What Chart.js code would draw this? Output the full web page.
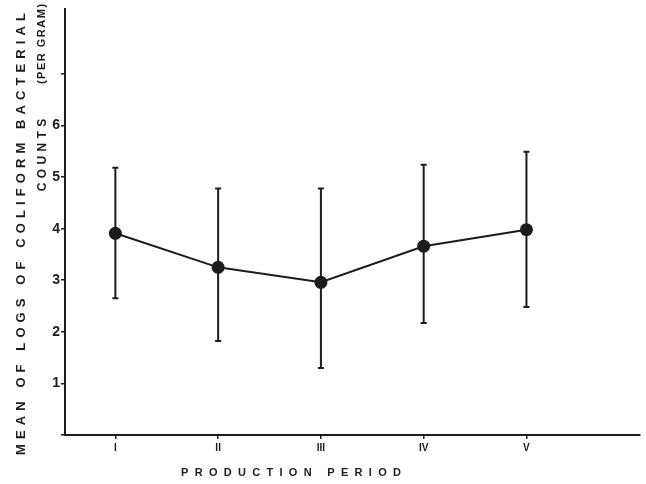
<!DOCTYPE html>
<html>
<head>
<meta charset="utf-8">
<script src="https://cdn.jsdelivr.net/npm/chart.js@4.4.1/dist/chart.umd.min.js"></script>
<style>
  html, body { margin: 0; padding: 0; background: #fff; }
  #wrap { width: 646px; height: 484px; }
</style>
</head>
<body>
<div id="wrap"><canvas id="coliformChart" width="646" height="484"></canvas></div>
<script>
// production periods (x positions 0..4)
const periods = ['I', 'II', 'III', 'IV', 'V'];
const meanLogs = [3.91, 3.25, 2.96, 3.66, 3.98];
const upperLogs = [5.18, 4.78, 4.78, 5.24, 5.49];
const lowerLogs = [2.65, 1.82, 1.30, 2.17, 2.48];
const yTicks = [0, 1, 2, 3, 4, 5, 6, 7];
const yLabelled = [1, 2, 3, 4, 5, 6];

const ink = '#1c1c1c';
const labelFont = '"Liberation Sans", Arial, sans-serif';

// vertical error bars with small caps
const errorBars = {
    id: 'errorBars',
    beforeDatasetsDraw(chart) {
        const { ctx, scales: { x, y } } = chart;
        ctx.save();
        ctx.strokeStyle = ink;
        ctx.lineWidth = 2;
        periods.forEach((p, i) => {
            const px = x.getPixelForValue(i);
            const top = y.getPixelForValue(upperLogs[i]);
            const bot = y.getPixelForValue(lowerLogs[i]);
            ctx.beginPath();
            ctx.moveTo(px, top); ctx.lineTo(px, bot);
            ctx.moveTo(px - 3, top); ctx.lineTo(px + 3, top);
            ctx.moveTo(px - 3, bot); ctx.lineTo(px + 3, bot);
            ctx.stroke();
        });
        ctx.restore();
    }
};

// spaced-out axis titles like the typeset original
const axisTitles = {
    id: 'axisTitles',
    afterDraw(chart) {
        const { ctx } = chart;
        const put = (text, cx, cy, size, spacing, rotate) => {
            ctx.save();
            ctx.translate(cx, cy);
            if (rotate) ctx.rotate(-Math.PI / 2);
            ctx.font = 'bold ' + size + 'px ' + labelFont;
            ctx.letterSpacing = spacing + 'px';
            ctx.fillStyle = ink;
            ctx.textBaseline = 'middle';
            const w = ctx.measureText(text).width - spacing;
            ctx.fillText(text, -w / 2, 0);
            ctx.restore();
        };
        put('MEAN OF LOGS OF COLIFORM BACTERIAL', 21, 234, 13, 5.1, true);
        put('COUNTS', 43, 155, 12, 4.4, true);
        put('(PER GRAM)', 42, 44, 11, 1.5, true);
        put('PRODUCTION PERIOD', 291, 473, 11, 6.3, false);
    }
};

new Chart(document.getElementById('coliformChart'), {
    type: 'line',
    data: {
        datasets: [{
            label: 'Mean log count',
            data: meanLogs.map((v, i) => ({ x: i, y: v })),
            borderColor: ink,
            borderWidth: 2,
            backgroundColor: ink,
            pointRadius: 6.5,
            pointBorderWidth: 0,
            tension: 0
        }]
    },
    options: {
        responsive: false,
        animation: false,
        layout: { padding: { top: 8, right: 6, left: 0, bottom: 0 } },
        plugins: { legend: { display: false }, tooltip: { enabled: false } },
        scales: {
            x: {
                type: 'linear',
                min: -0.49,
                max: 5.1,
                afterBuildTicks: s => { s.ticks = periods.map((p, i) => ({ value: i })); },
                afterFit: s => { s.height = 49; },
                border: { color: ink, width: 2 },
                grid: { drawOnChartArea: false, color: ink, tickLength: 4, lineWidth: 1.5 },
                ticks: {
                    color: ink,
                    padding: 3,
                    font: { family: labelFont, size: 10, weight: 'bold' },
                    callback: v => periods[v] || ''
                }
            },
            y: {
                min: 0,
                max: 8.25,
                afterBuildTicks: s => { s.ticks = yTicks.map(v => ({ value: v })); },
                afterFit: s => { s.width = 65; },
                border: { color: ink, width: 2 },
                grid: { drawOnChartArea: false, color: ink, tickLength: 4, lineWidth: 1.5 },
                ticks: {
                    color: ink,
                    padding: 1,
                    font: { family: labelFont, size: 14, weight: 'bold' },
                    callback: v => yLabelled.includes(v) ? String(v) : ''
                }
            }
        }
    },
    plugins: [errorBars, axisTitles]
});
</script>
</body>
</html>
